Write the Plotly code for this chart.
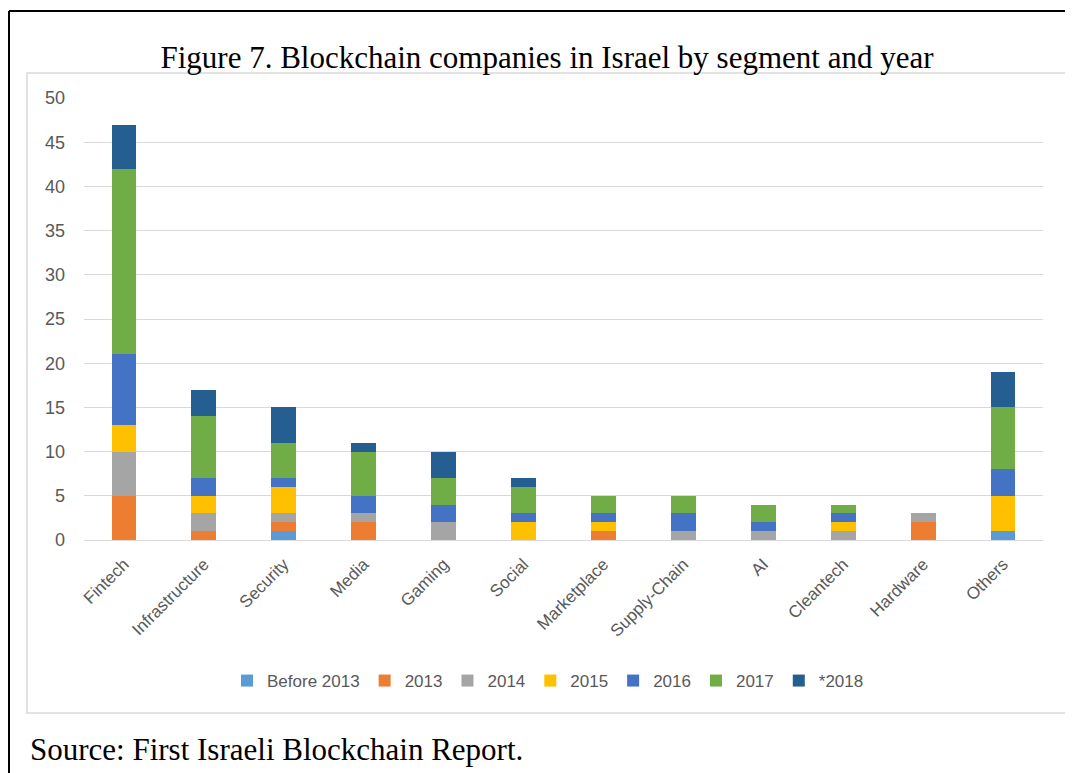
import plotly.graph_objects as go

categories = ["Fintech", "Infrastructure", "Security", "Media", "Gaming", "Social",
              "Marketplace", "Supply-Chain", "AI", "Cleantech", "Hardware", "Others"]
series_names = ["Before 2013", "2013", "2014", "2015", "2016", "2017", "*2018"]
before_2013 = [0, 0, 1, 0, 0, 0, 0, 0, 0, 0, 0, 1]
y2013 = [5, 1, 1, 2, 0, 0, 1, 0, 0, 0, 2, 0]
y2014 = [5, 2, 1, 1, 2, 0, 0, 1, 1, 1, 1, 0]
y2015 = [3, 2, 3, 0, 0, 2, 1, 0, 0, 1, 0, 4]
y2016 = [8, 2, 1, 2, 2, 1, 1, 2, 1, 1, 0, 3]
y2017 = [21, 7, 4, 5, 3, 3, 2, 2, 2, 1, 0, 7]
y2018 = [5, 3, 4, 1, 3, 1, 0, 0, 0, 0, 0, 4]
y_ticks = [0, 5, 10, 15, 20, 25, 30, 35, 40, 45, 50]

series_values = [before_2013, y2013, y2014, y2015, y2016, y2017, y2018]
colors = ["#5B9BD5", "#ED7D31", "#A5A5A5", "#FFC000", "#4472C4", "#70AD47", "#255E91"]

W, H = 1073, 773
OFF = 8  # page body margin offset
L, R, T, B = 84 - OFF, 1043 - OFF, 98 - OFF, 540 - OFF  # plot area in pixels


def px(x):
    return (x - OFF - L) / (R - L)


def py(y):
    return (B - (y - OFF)) / (B - T)


fig = go.Figure()
for name, vals, col in zip(series_names, series_values, colors):
    fig.add_trace(go.Bar(x=categories, y=vals, name=name, marker_color=col,
                         marker_line_width=0))

fig.update_layout(
    width=W, height=H,
    barmode="stack", bargap=0.69,
    paper_bgcolor="white", plot_bgcolor="white",
    margin=dict(l=L, r=W - R, t=T, b=H - B, pad=0),
    font=dict(family="Liberation Sans, Arial", color="#595959"),
    showlegend=True,
    legend=dict(orientation="h", x=px(548), xanchor="center", y=py(681), yanchor="middle",
                font=dict(size=17, color="#595959"), traceorder="normal",
                itemwidth=30, bgcolor="rgba(0,0,0,0)"),
    title=dict(text="Figure 7. Blockchain companies in Israel by segment and year",
               font=dict(family="Liberation Serif, Times New Roman", size=31, color="#000000"),
               x=(547 - OFF) / W, xanchor="center", y=1 - (57 - OFF) / H, yanchor="middle"),
    xaxis=dict(tickangle=-45, tickfont=dict(size=17, color="#595959"),
               showgrid=False, showline=False, ticks="", ticklen=0),
    yaxis=dict(range=[0, 50], tickvals=y_ticks, tickfont=dict(size=18, color="#595959"),
               gridcolor="#D9D9D9", gridwidth=1.3, zeroline=True, zerolinecolor="#D9D9D9",
               zerolinewidth=1.3, showline=False, ticks="", ticklen=0),
)
fig.update_yaxes(ticklabelstandoff=18)
fig.update_xaxes(ticklabelstandoff=10)

# outer black frame (left and top edges visible)
fig.add_shape(type="line", xref="paper", yref="paper", x0=px(9), x1=px(W + 20), y0=py(11), y1=py(11),
              line=dict(color="#000000", width=2))
fig.add_shape(type="line", xref="paper", yref="paper", x0=px(9), x1=px(9), y0=py(11), y1=py(H + 20),
              line=dict(color="#000000", width=2))
# light grey chart frame
fig.add_shape(type="rect", xref="paper", yref="paper", x0=px(27), x1=px(1068), y0=py(73), y1=py(713),
              line=dict(color="#D9D9D9", width=1.5), layer="below")

fig.add_annotation(text="Source: First Israeli Blockchain Report.", xref="paper", yref="paper",
                   x=px(28), y=py(749), xanchor="left", yanchor="middle", showarrow=False,
                   font=dict(family="Liberation Serif, Times New Roman", size=31, color="#000000"))

fig.write_html("out.html")
